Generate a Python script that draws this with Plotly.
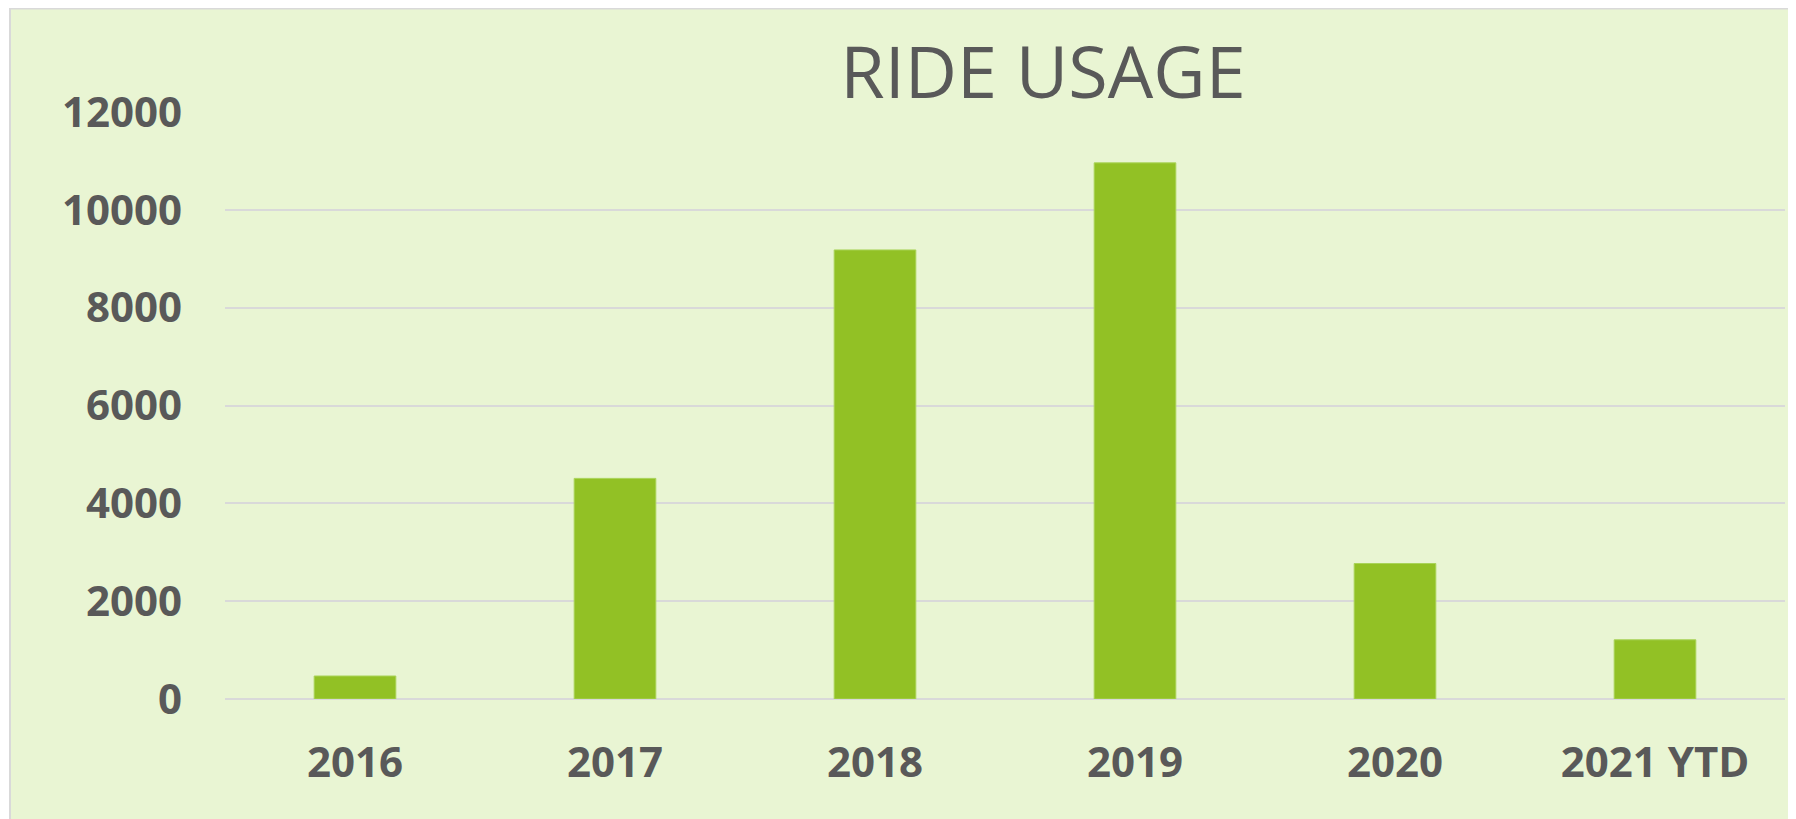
import plotly.graph_objects as go

categories = ["2016", "2017", "2018", "2019", "2020", "2021 YTD"]
rides = [470, 4510, 9180, 10960, 2770, 1210]
y_ticks = [0, 2000, 4000, 6000, 8000, 10000, 12000]
y_tick_labels = ["0", "2000", "4000", "6000", "8000", "10000", "12000"]

# page body has an 8px margin; figure sized to fit the 1796x819 window
OFF = 8
W, H = 1796 - OFF, 819 - OFF
L, R, T, B = 217, 11, 104, 120
pw = W - L - R
ph = H - T - B

def px_x(px):
    return (px - L) / pw

def px_y(py):
    return (H - B - py) / ph

fig = go.Figure(
    go.Bar(
        x=categories,
        y=rides,
        marker=dict(color="#92C125", line=dict(color="#A9D358", width=1)),
        width=0.314,
    )
)

fig.add_shape(
    type="rect", xref="paper", yref="paper",
    x0=px_x(2), x1=px_x(W + 10), y0=px_y(H + 10), y1=px_y(0.5),
    fillcolor="#E9F5D3", line=dict(color="#D9D9D9", width=2), layer="below",
)

fig.update_layout(
    width=W, height=H,
    margin=dict(l=L, r=R, t=T, b=B),
    paper_bgcolor="white",
    plot_bgcolor="rgba(0,0,0,0)",
    showlegend=False,
    title=dict(
        text="RIDE USAGE",
        font=dict(family="Open Sans", size=72, color="#595959"),
        x=(1043 - OFF) / W, xref="container", xanchor="center",
        y=1 - (73 - OFF) / H, yref="container", yanchor="middle",
    ),
    bargap=0.686,
)
fig.update_xaxes(
    showgrid=False, showline=False, zeroline=False,
    tickfont=dict(family="Open Sans", size=42, color="#595959", weight="bold"),
    ticklabelstandoff=35,
)
fig.update_yaxes(
    range=[0, 12000], tickvals=y_ticks, ticktext=y_tick_labels,
    showgrid=True, gridcolor="#D9D9D9", gridwidth=2,
    zeroline=True, zerolinecolor="#D9D9D9", zerolinewidth=2,
    showline=False,
    tickfont=dict(family="Open Sans", size=42, color="#595959", weight="bold"),
    ticklabelstandoff=42,
)

fig.write_html("out.html")
